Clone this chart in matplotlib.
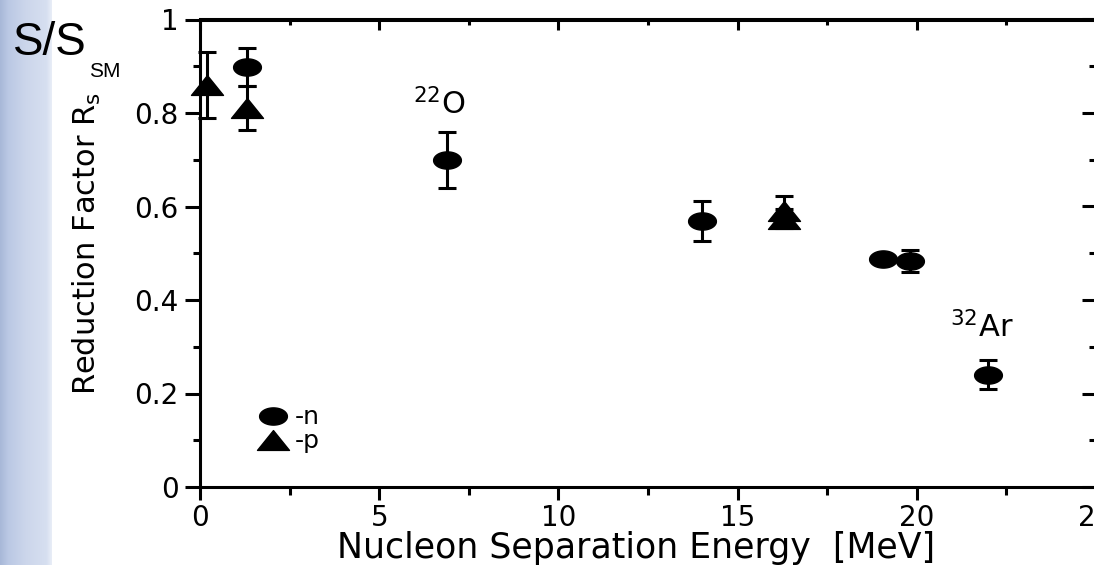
import numpy as np
import matplotlib
matplotlib.use("Agg")
import matplotlib.pyplot as plt
from matplotlib.path import Path
from matplotlib.lines import Line2D
from matplotlib.ticker import MultipleLocator, FuncFormatter

# Spectroscopic reduction factors vs. nucleon separation energy
neutron_energy = [1.3, 6.9, 14.0, 19.05, 19.8, 22.0]
neutron_rs = [0.898, 0.700, 0.569, 0.488, 0.483, 0.240]
neutron_err = [0.040, 0.060, 0.043, 0.008, 0.023, 0.031]

proton_energy = [0.2, 1.3, 16.3, 16.3]
proton_rs = [0.860, 0.810, 0.590, 0.574]
proton_err = [0.070, 0.047, 0.032, 0.020]

x_ticks = [0, 5, 10, 15, 20, 25]
y_ticks = [0, 0.2, 0.4, 0.6, 0.8, 1.0]

plt.rcParams["font.family"] = ["DejaVu Sans"]
plt.rcParams["mathtext.fontset"] = "dejavusans"

W, H = 1094, 565
fig = plt.figure(figsize=(W / 100, H / 100), dpi=100)
fig.patch.set_facecolor("white")

# slide side strip
strip = fig.add_axes([0, 0, 52 / W, 1])
strip.axis("off")
stops_x = [0.0, 0.15, 0.5, 0.9, 1.0]
stops_c = np.array([[168, 184, 216], [186, 200, 228], [204, 214, 235],
                    [214, 223, 240], [232, 237, 247]]) / 255.0
xs = np.linspace(0, 1, 60)
grad = np.stack([np.interp(xs, stops_x, stops_c[:, k]) for k in range(3)], axis=-1)
strip.imshow(grad[None, :, :], aspect="auto", extent=[0, 1, 0, 1])
strip.set_xlim(0, 1)
strip.set_ylim(0, 1)

fig.text(13 / W, 1 - 55 / H, "S/S", fontsize=33, family="Liberation Sans",
         va="baseline", ha="left")
fig.text(89 / W, 1 - 77 / H, "SM", fontsize=15, family="Liberation Sans",
         va="baseline", ha="left")

ax = fig.add_axes([200 / W, 78 / H, 896 / W, 467.5 / H])
ax.set_xlim(0, 25)
ax.set_ylim(0, 1)

lw = 2.2
for s in ax.spines.values():
    s.set_linewidth(lw)

# wide glyphs for the data markers
t = np.linspace(0, 2 * np.pi, 60)
ellipse = Path(np.column_stack([np.cos(t), 0.62 * np.sin(t)]), closed=True)
triangle = Path([(-1, -0.62), (1, -0.62), (0, 0.62), (-1, -0.62)], closed=True)

common = dict(ls="none", color="black", ecolor="black", elinewidth=lw,
              capsize=6.5, capthick=lw, clip_on=False, zorder=5)
eb_n = ax.errorbar(neutron_energy, neutron_rs, yerr=neutron_err,
                   marker=ellipse, ms=20, **common)
eb_p = ax.errorbar(proton_energy, proton_rs, yerr=proton_err,
                   marker=triangle, ms=23, **common)

ax.xaxis.set_minor_locator(MultipleLocator(2.5))
ax.yaxis.set_minor_locator(MultipleLocator(0.1))
ax.set_xticks(x_ticks)
ax.set_yticks(y_ticks)
ax.yaxis.set_major_formatter(FuncFormatter(lambda v, p: f"{v:g}"))
ax.tick_params(which="both", direction="out", width=lw, top=False, right=False,
               labelsize=20, colors="black")
ax.tick_params(axis="y", which="major", length=10.5, pad=5)
ax.tick_params(axis="y", which="minor", length=5)
ax.tick_params(axis="x", which="major", length=9.5, pad=2.5)
ax.tick_params(axis="x", which="minor", length=6)

# inward ticks on the top and right edges
sx = ax.secondary_xaxis("top")
sx.xaxis.set_major_locator(MultipleLocator(5))
sx.xaxis.set_minor_locator(MultipleLocator(2.5))
sx.tick_params(which="both", direction="in", width=lw, labeltop=False)
sx.tick_params(which="major", length=8)
sx.tick_params(which="minor", length=4.5)
sx.spines["top"].set_linewidth(lw)

sy = ax.secondary_yaxis("right")
sy.yaxis.set_major_locator(MultipleLocator(0.2))
sy.yaxis.set_minor_locator(MultipleLocator(0.1))
sy.tick_params(which="both", direction="in", width=lw, labelright=False)
sy.tick_params(which="major", length=10)
sy.tick_params(which="minor", length=5)

ax.set_xlabel("Nucleon Separation Energy  [MeV]", fontsize=25)
ax.xaxis.set_label_coords(0.4866, -0.095)
ax.set_ylabel("Reduction Factor R$_\\mathregular{s}$", fontsize=22)
ax.yaxis.set_label_coords(-0.108, 0.52)

ax.text(5.94, 0.798, r"$^{22}$O", fontsize=22, ha="left", va="baseline")
ax.text(20.92, 0.319, r"$^{32}$Ar", fontsize=22, ha="left", va="baseline")

handles = [Line2D([], [], ls="none", marker=ellipse, ms=20, color="black"),
           Line2D([], [], ls="none", marker=triangle, ms=23, color="black")]
ax.legend(handles, ["-n", "-p"], loc="center left",
          bbox_to_anchor=(0.0658, 0.123), frameon=False, fontsize=18,
          handlelength=1.15, handletextpad=0.3, labelspacing=0.0,
          borderpad=0, borderaxespad=0)

fig.savefig("out.png", dpi=100)
